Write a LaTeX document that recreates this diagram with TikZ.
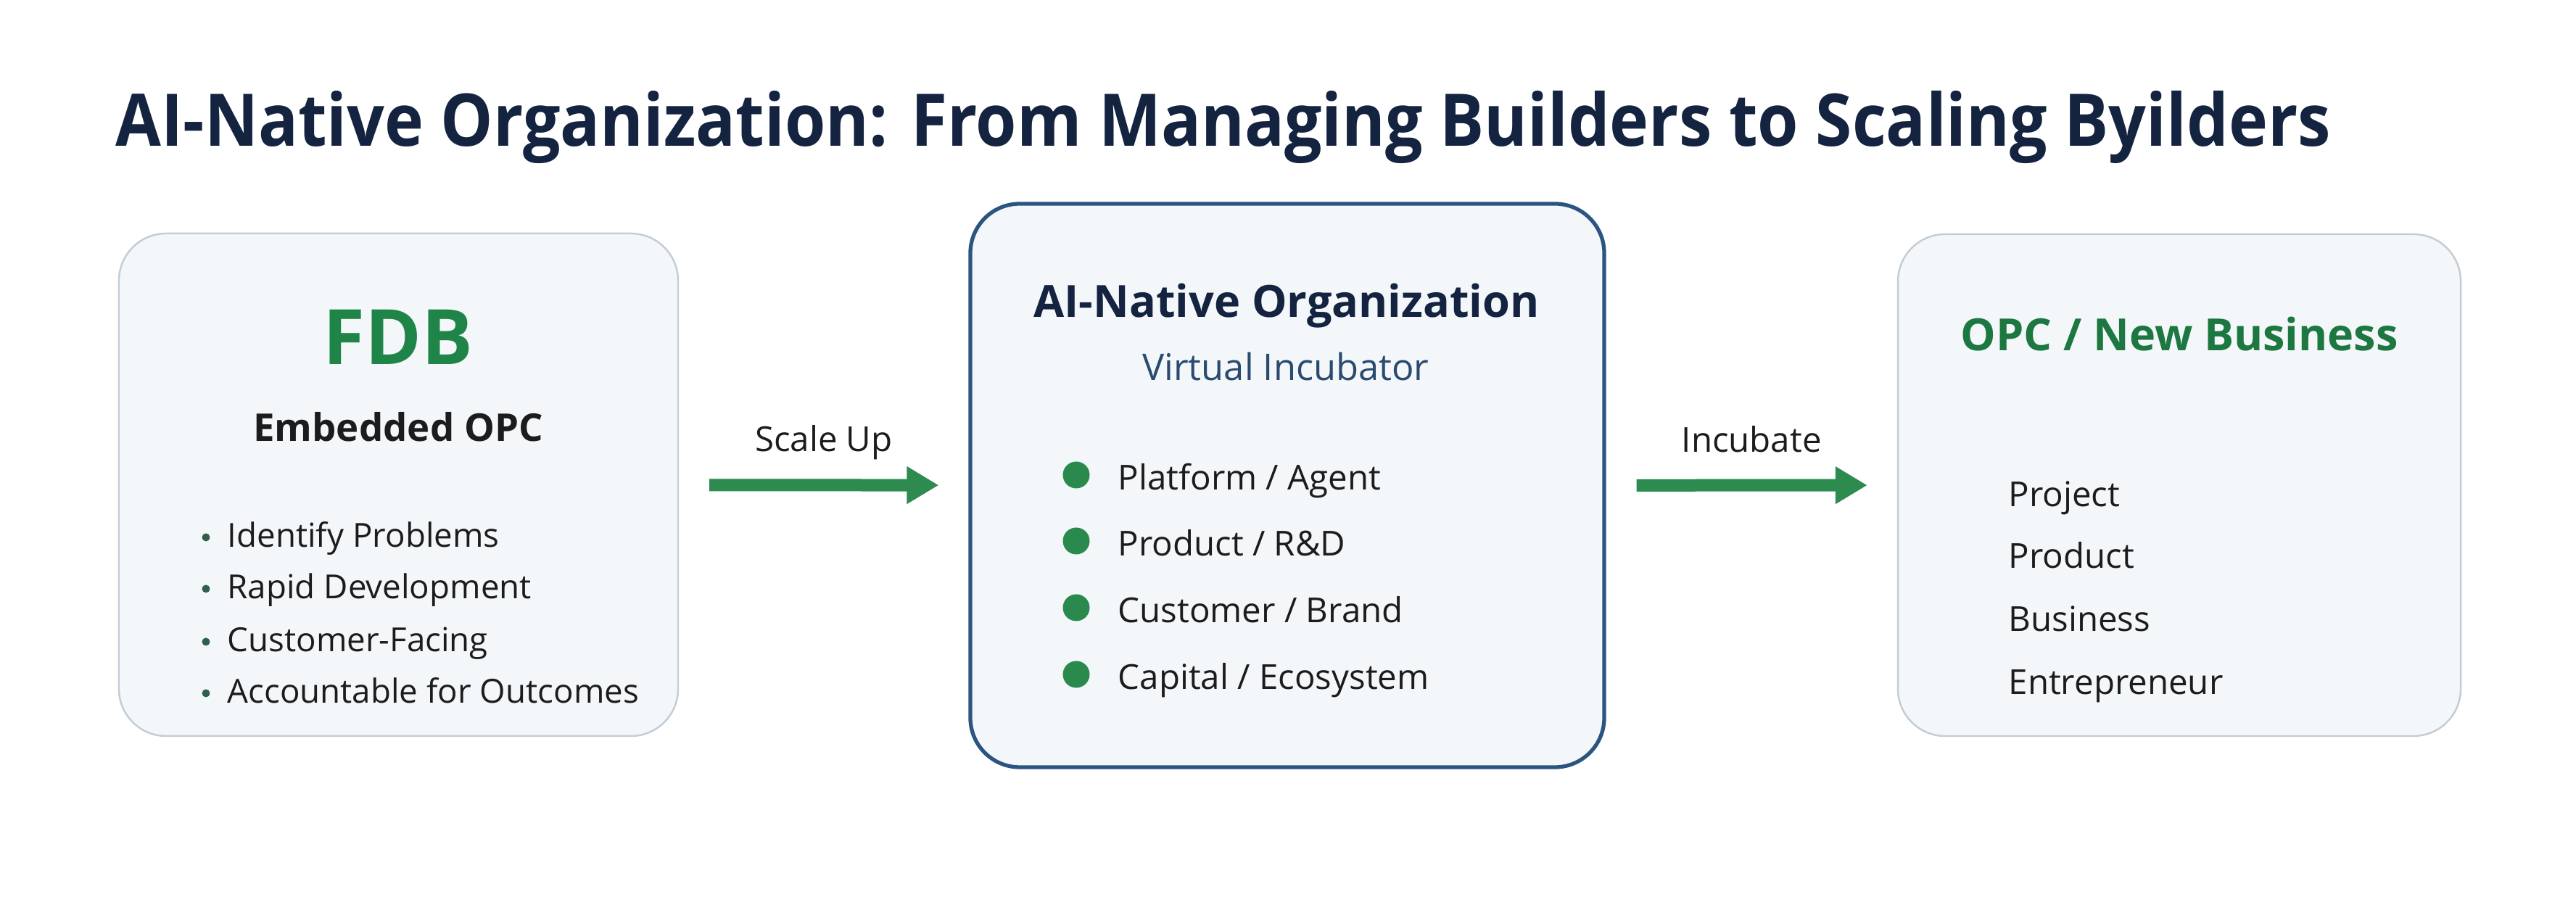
\documentclass[tikz,border=0pt]{standalone}
\usepackage{fontspec}
\setmainfont{Open Sans}
\newfontfamily\headfont{Open Sans}[FakeStretch=0.91]
\usetikzlibrary{arrows.meta,positioning}
\definecolor{navy}{HTML}{14233F}
\definecolor{leaf}{HTML}{1F8447}
\definecolor{flowgreen}{HTML}{2E8B50}
\definecolor{ink}{HTML}{1C1C1C}
\definecolor{cardfill}{HTML}{F3F7FA}
\definecolor{cardline}{HTML}{C3CDD6}
\definecolor{hubline}{HTML}{2B5580}
\definecolor{subblue}{HTML}{2A4A70}
\definecolor{dotgreen}{HTML}{2A8A4E}
\definecolor{tickgreen}{HTML}{2F5E4A}
\newcommand{\tickitem}[4]{\fill[tickgreen] (#1-0.29,#2+0.14) circle (0.055);\node[item,anchor=base west,font=\fontsize{13}{16}\selectfont] (#3) at (#1,#2) {#4};}
\newcommand{\dotitem}[4]{\fill[dotgreen] (#1-0.57,#2+0.21) circle (0.185);\node[item,anchor=base west] (#3) at (#1,#2) {#4};}

\begin{document}
\begin{tikzpicture}[scale=1,
  card/.style={draw=cardline,line width=0.7pt,fill=cardfill,rounded corners=0.65cm,minimum width=7.71cm,minimum height=6.93cm},
  hub/.style={card,draw=hubline,line width=1.5pt,rounded corners=0.68cm,minimum width=8.74cm,minimum height=7.77cm},
  item/.style={font=\fontsize{13.5}{16}\selectfont,text=ink,inner sep=0pt},
  head/.style={font=\bfseries\fontsize{17.4}{20}\selectfont,inner sep=0pt,anchor=base},
  flow/.style={flowgreen,line width=0.17cm,-{Triangle[length=0.44cm,width=0.49cm]},shorten <=0.42cm,shorten >=0.41cm}]
\fill[white] (0,0) rectangle (35.52,12.48);\useasboundingbox (0,0) rectangle (35.52,12.48);
\node[anchor=base west,inner sep=0pt,text=navy,font=\headfont\bfseries\fontsize{28.5}{34}\selectfont] (title) at (1.59,10.46) {AI-Native Organization: From Managing Builders to Scaling Byilders};
% three stages
\node[card] (fdb) at (5.495,5.795) {};
\node[hub] (org) at (17.75,5.785) {};
\node[card,minimum width=7.76cm,minimum height=6.92cm] (opc) at (30.05,5.79) {};
\node[head,text=leaf,font=\bfseries\fontsize{30}{36}\selectfont] (fdbname) at (5.49,7.45) {FDB};
\node[head,text=ink,font=\bfseries\fontsize{15}{18}\selectfont] (fdbsub) at (5.49,6.39) {Embedded OPC};
\tickitem{3.13}{4.93}{f1}{Identify Problems}
\tickitem{3.13}{4.22}{f2}{Rapid Development}
\tickitem{3.13}{3.49}{f3}{Customer-Facing}
\tickitem{3.13}{2.78}{f4}{Accountable for Outcomes}
\node[head,text=navy] (orgname) at (17.74,8.10) {AI-Native Organization};
\node[item,anchor=base,text=subblue,font=\fontsize{14.4}{17}\selectfont] (orgsub) at (17.73,7.23) {Virtual Incubator};
\dotitem{15.41}{5.72}{o1}{Platform / Agent}
\dotitem{15.41}{4.81}{o2}{Product / R\&D}
\dotitem{15.41}{3.89}{o3}{Customer / Brand}
\dotitem{15.41}{2.97}{o4}{Capital / Ecosystem}
\node[head,text=leaf!90!black] (opcname) at (30.05,7.64) {OPC / New Business};
\node[item,anchor=base west] (p1) at (27.69,5.49) {Project};
\node[item,anchor=base west] (p2) at (27.69,4.64) {Product};
\node[item,anchor=base west] (p3) at (27.69,3.77) {Business};
\node[item,anchor=base west] (p4) at (27.69,2.90) {Entrepreneur};
% flows
\draw[flow] (fdb) -- node[item,midway,anchor=base,yshift=0.46cm] (scale) {Scale Up} (org);
\draw[flow] (org) -- node[item,midway,anchor=base,yshift=0.46cm] (incub) {Incubate} (opc);
\end{tikzpicture}
\end{document}
